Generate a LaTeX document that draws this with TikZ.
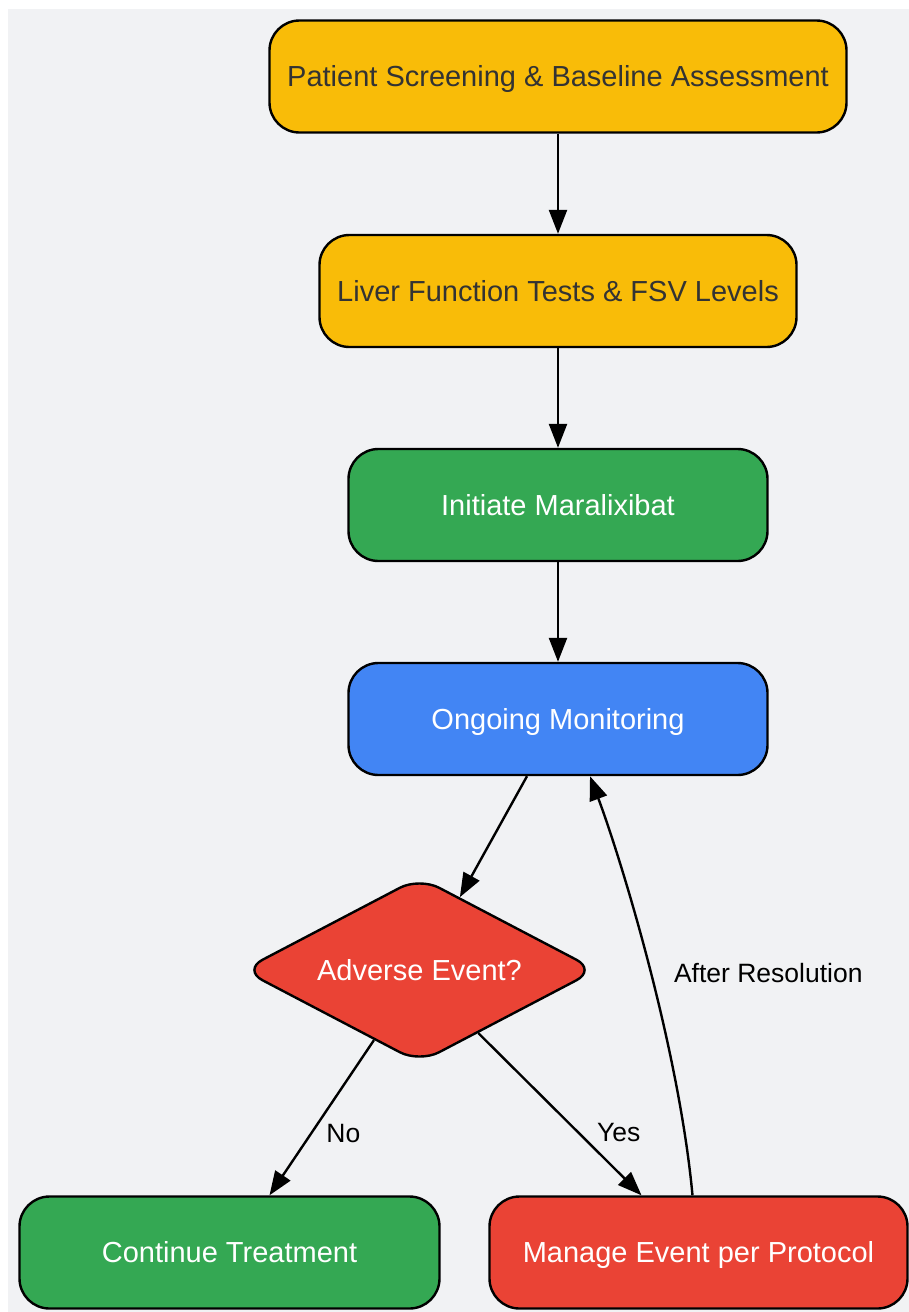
\documentclass[tikz,border=0pt]{standalone}
\usepackage{fontspec}
\setmainfont{Liberation Sans}
\usetikzlibrary{calc,shapes.geometric,arrows.meta}
\definecolor{bgcol}{HTML}{F1F2F4}
\definecolor{ylw}{HTML}{F9BC08}
\definecolor{grn}{HTML}{34A853}
\definecolor{blu}{HTML}{4285F4}
\definecolor{rd}{HTML}{EA4335}
\definecolor{txt}{HTML}{333333}

\begin{document}
\begin{tikzpicture}[x=1pt,y=-1pt,>={Triangle[length=24pt,width=18pt]},
	box/.style={draw=black,line width=2.4pt,rounded corners=30pt,minimum height=112pt,
		text=white,text height=26.2pt,text depth=6.1pt,font=\fontsize{29}{34}\selectfont},
	lbl/.style={font=\fontsize{26.5}{30}\selectfont,inner sep=2pt,text height=24pt,text depth=5.6pt},
	flow/.style={->,line width=2.4pt}]
	\useasboundingbox (0,0) rectangle (909,1312);
	\fill[bgcol] (8,9) rectangle (909,1312);
	\node[box,fill=ylw,text=txt,minimum width=577pt] (scr) at (558,76.5) {Patient Screening \& Baseline Assessment};
	\node[box,fill=ylw,text=txt,minimum width=477pt] (lft) at (558,291) {Liver Function Tests \& FSV Levels};
	\node[box,fill=grn,minimum width=419pt] (init) at (558,505) {Initiate Maralixibat};
	\node[box,fill=blu,minimum width=419pt] (mon) at (558,719) {Ongoing Monitoring};
	\node[diamond,draw=black,line width=2.4pt,aspect=2,inner sep=0pt,minimum width=354pt,
		minimum height=186pt,rounded corners=22pt,fill=rd,text=white,text height=26.2pt,text depth=6.1pt,
		font=\fontsize{29}{34}\selectfont] (ae) at (419.5,970) {Adverse Event?};
	\node[box,fill=grn,minimum width=420pt] (cont) at (229.5,1252.5) {Continue Treatment};
	\node[box,fill=rd,minimum width=418pt] (mng) at (698.5,1252.5) {Manage Event per Protocol};
	\draw[flow] (scr) -- (lft);
	\draw[flow] (lft) -- (init);
	\draw[flow] (init) -- (mon);
	\draw[flow] ($(mon.south)+(-31,0)$) -- (ae.61);
	\draw[flow] (ae.-123) -- ($(cont.north)+(40,0)$) node[lbl,pos=0.6,anchor=west,xshift=12pt]{No};
	\draw[flow] (ae.-47) -- ($(mng.north)+(-57,0)$) node[lbl,pos=0.61,anchor=west,xshift=16pt]{Yes};
	\draw[flow] ($(mng.north)+(-6,0)$) .. controls +(-14,-150) and +(30,80) .. ($(mon.south)+(32,0)$)
		node[lbl,pos=0.47,anchor=west,xshift=20pt]{After Resolution};
\end{tikzpicture}
\end{document}
